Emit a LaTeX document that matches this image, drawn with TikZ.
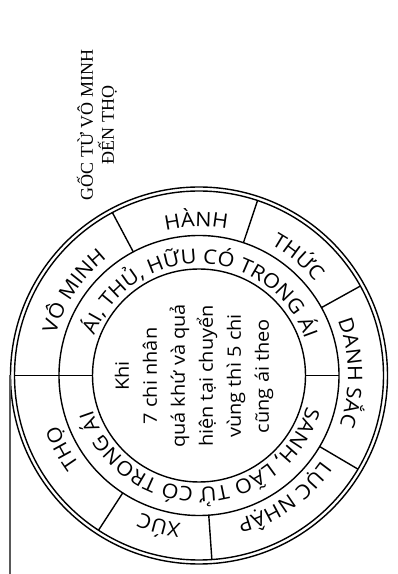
\documentclass[tikz,border=0pt]{standalone}
\usepackage{fontspec}
\setmainfont{Open Sans}[FakeStretch=1.08]
\newfontfamily\titlefont{Liberation Serif}
\usetikzlibrary{decorations.text}
\def\rf{\fontsize{20pt}{24pt}\selectfont}
\newcommand\RingLabel[4]{%
  \path[decorate,decoration={text along path,text align=center,text={|\rf|#4}}]
    ([shift={({#1+#2}:#3pt)}]O) arc ({#1+#2}:{#1-#2}:#3pt);}
\begin{document}
\begin{tikzpicture}[x=1pt,y=1pt,
  ring/.style={line width=1.4pt,black},
  sideline/.style={line width=1.6pt,black!65}]
\useasboundingbox (0,0) rectangle (398,574);
\coordinate (O) at (199,198.5);
% rings
\draw[ring] (O) circle (188.5pt);
\draw[ring] (O) circle (184.5pt);
\draw[ring] (O) circle (140pt);
\draw[ring] (O) circle (106.5pt);
% dividers of the outer ring
\foreach \a in {118,71.5,29,-30.5,-86,-123}
  \draw[ring] ([shift={(\a:140pt)}]O) -- ([shift={(\a:184.5pt)}]O);
% horizontal dividers
\draw[ring] ([shift={(180:106.5pt)}]O) -- ([shift={(180:184.5pt)}]O);
\draw[ring] ([shift={(0:106.5pt)}]O) -- ([shift={(0:140pt)}]O);
% left vertical line
\coordinate (vtop) at (10,198.5);
\coordinate (vbot) at (10,0);
\draw[sideline] (vtop) -- (vbot);
% outer ring labels
\RingLabel{146}{40}{149}{VÔ MINH}
\RingLabel{91}{40}{149}{HÀNH}
\RingLabel{50}{40}{149}{THỨC}
\RingLabel{1}{40}{149}{DANH SẮC}
\RingLabel{-55}{40}{149}{LỤC NHẬP}
\RingLabel{-105}{40}{149}{XÚC}
\RingLabel{-152}{40}{149}{THỌ}
% middle ring labels
\RingLabel{89}{85}{112}{ÁI, THỦ, HỮU CÓ TRONG ÁI}
\RingLabel{-89}{85}{112}{SANH, LÃO TỬ CÓ TRONG ÁI}
% centre text
\node[rotate=90,align=center,font=\fontsize{18.5pt}{28pt}\selectfont] (centre) at (194,198)
  {Khi\\7 chi nhân\\quá khứ và quả\\hiện tại chuyển\\vùng thì 5 chi\\cũng ái theo};
% title
\node[rotate=90,align=center,font=\titlefont\fontsize{18pt}{21pt}\selectfont] (title) at (97,449)
  {GỐC TỪ VÔ MINH\\ĐẾN THỌ};
\end{tikzpicture}
\end{document}
